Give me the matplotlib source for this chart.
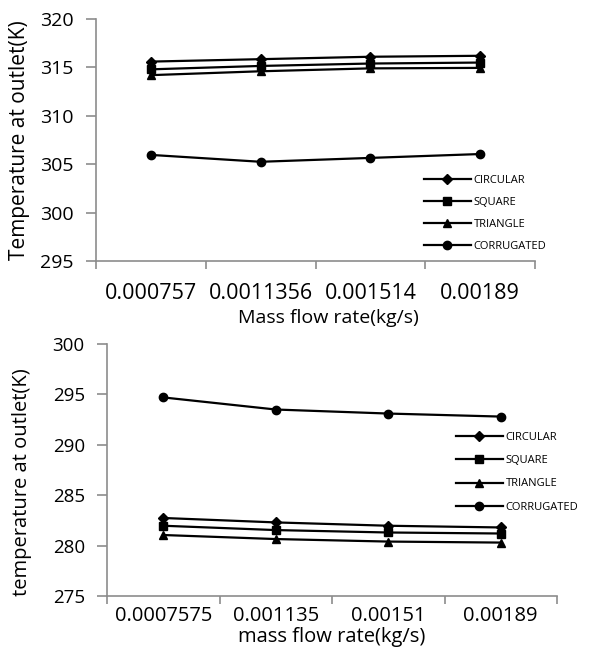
import matplotlib
matplotlib.use("Agg")
import matplotlib.pyplot as plt
from matplotlib.ticker import FixedLocator, NullFormatter

# ---- data ----
series_names = ["CIRCULAR", "SQUARE", "TRIANGLE", "CORRUGATED"]

top_x_labels = ["0.000757", "0.0011356", "0.001514", "0.00189"]
top_circular = [315.6, 315.85, 316.1, 316.2]
top_square = [314.8, 315.15, 315.4, 315.5]
top_triangle = [314.2, 314.6, 314.9, 314.95]
top_corrugated = [305.96, 305.25, 305.65, 306.05]

bot_x_labels = ["0.0007575", "0.001135", "0.00151", "0.00189"]
bot_circular = [282.74, 282.3, 281.97, 281.8]
bot_square = [281.97, 281.54, 281.3, 281.2]
bot_triangle = [281.05, 280.65, 280.4, 280.3]
bot_corrugated = [294.7, 293.5, 293.1, 292.8]

markers = ["D", "s", "^", "o"]
msizes = [5, 6, 6, 6]

FONT = "Open Sans"
W, H = 589, 654
fig = plt.figure(figsize=(W / 100, H / 100), dpi=100)


def px_axes(l, t, r, b):
    return fig.add_axes([l / W, (H - b) / H, (r - l) / W, (b - t) / H])


def style(ax, labels, ylim, yticks, ylabel, xlabel, ysize, lab_size, xsize, xlab_size, xpad):
    ax.set_xlim(-0.5, len(labels) - 0.5)
    ax.set_ylim(*ylim)
    ax.set_yticks(yticks)
    ax.set_yticklabels([str(v) for v in yticks], fontsize=ysize, family=FONT)
    ax.set_xticks(range(len(labels)))
    ax.set_xticklabels(labels, fontsize=xsize, family=FONT)
    ax.xaxis.set_minor_locator(FixedLocator([i - 0.5 for i in range(len(labels) + 1)]))
    ax.xaxis.set_minor_formatter(NullFormatter())
    ax.tick_params(axis="x", which="major", length=0, pad=xpad)
    ax.tick_params(axis="x", which="minor", length=6, color="#8c8c8c", width=1.2)
    ax.tick_params(axis="y", length=7, color="#8c8c8c", width=1.2, pad=9)
    for s in ["top", "right"]:
        ax.spines[s].set_visible(False)
    for s in ["left", "bottom"]:
        ax.spines[s].set_color("#8c8c8c")
        ax.spines[s].set_linewidth(1.2)
    ax.set_ylabel(ylabel, fontsize=lab_size, family=FONT)
    ax.set_xlabel(xlabel, fontsize=xlab_size, family=FONT)


def plot_series(ax, data):
    x = list(range(len(data[0])))
    for vals, name, m, ms in zip(data, series_names, markers, msizes):
        ax.plot(x, vals, color="black", lw=1.6, marker=m, markersize=ms, label=name)


# top chart
ax1 = px_axes(96, 19, 535, 261)
plot_series(ax1, [top_circular, top_square, top_triangle, top_corrugated])
style(ax1, top_x_labels, (295, 320), [295, 300, 305, 310, 315, 320],
      "Temperature at outlet(K)", "Mass flow rate(kg/s)", 14, 15, 15.5, 14, 16)
ax1.yaxis.set_label_coords(-0.15, 0.5)
ax1.xaxis.set_label_coords(0.53, -0.2)
ax1.legend(loc="upper left", bbox_to_anchor=(418 / W, 1 - 169 / H),
           bbox_transform=fig.transFigure, frameon=False,
           prop={"family": FONT, "size": 8}, handlelength=4.3,
           handletextpad=0.2, labelspacing=1.0, borderpad=0)

# bottom chart
ax2 = px_axes(107, 344, 557, 596)
plot_series(ax2, [bot_circular, bot_square, bot_triangle, bot_corrugated])
style(ax2, bot_x_labels, (275, 300), [275, 280, 285, 290, 295, 300],
      "temperature at outlet(K)", "mass flow rate(kg/s)", 13.5, 14.5, 14.5, 14.5, 7)
ax2.yaxis.set_label_coords(-0.167, 0.45)
ax2.xaxis.set_label_coords(0.5, -0.122)
ax2.legend(loc="upper left", bbox_to_anchor=(450 / W, 1 - 426 / H),
           bbox_transform=fig.transFigure, frameon=False,
           prop={"family": FONT, "size": 8}, handlelength=4.3,
           handletextpad=0.2, labelspacing=1.12, borderpad=0)

fig.savefig("out.png", dpi=100)
